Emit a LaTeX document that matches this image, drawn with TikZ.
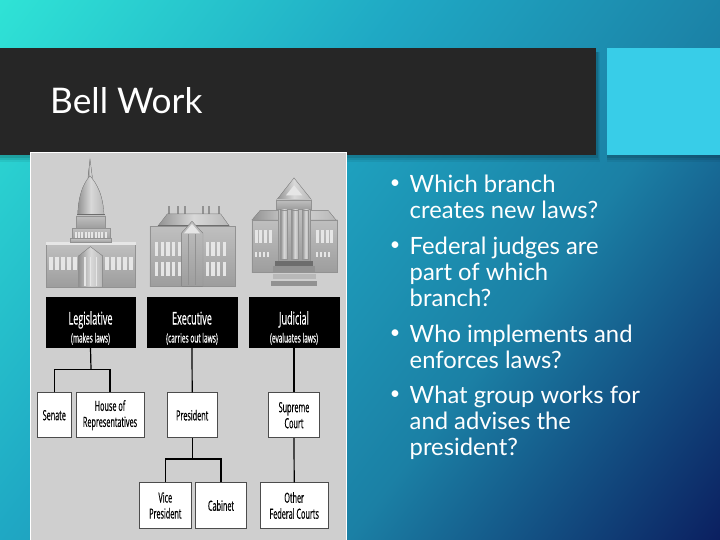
\documentclass[tikz,border=0pt]{standalone}
\usepackage{fontspec}
\setmainfont{Open Sans}
\newfontfamily\narrowfont[FakeStretch=0.52,FakeBold=0.35]{Open Sans}
\newfontfamily\slidefont{Lato}
\definecolor{bgA}{HTML}{2FE3D6}
\definecolor{bgB}{HTML}{1FA8C4}
\definecolor{bgD}{HTML}{1B80A5}
\definecolor{bgC}{HTML}{0B1F60}
\definecolor{bar}{HTML}{262626}
\definecolor{aqua}{HTML}{38CDE8}
\definecolor{panel}{HTML}{CFCFCF}
\definecolor{bldg}{HTML}{B8B8B8}
\definecolor{bldgD}{HTML}{929292}
\definecolor{bldgL}{HTML}{E6E6E6}
\pgfdeclarehorizontalshading{slidebg}{100bp}{color(0bp)=(bgA); color(25bp)=(bgA); color(43bp)=(bgB); color(58.5bp)=(bgD); color(75bp)=(bgC); color(100bp)=(bgC)}
\newcommand{\subline}[1]{{\fontsize{12.6}{14}\selectfont #1}}
\newcommand{\hdrstrut}{\rule{0pt}{24pt}}
\tikzset{
 hdr/.style={fill=black,draw=black,minimum width=89.5pt,minimum height=50pt,inner sep=0pt,text=white,align=center,font=\narrowfont\fontsize{17.5}{20}\selectfont},
 wbox/.style={fill=white,draw=black!70,line width=.7pt,inner sep=0pt,align=center,font=\narrowfont\fontsize{14}{16}\selectfont},
 stem/.style={draw=black,line width=1.2pt},
 bus/.style={draw=black,line width=1.4pt},
 wall/.style={top color=bldg!90,bottom color=bldgD!90,draw=bldgD,line width=.4pt},
 metal/.style={left color=bldgD,right color=bldg,middle color=bldgL!70!bldg,draw=bldgD,line width=.4pt},
 win/.style={fill=bldgL,draw=none},
 dark/.style={fill=bldgD!75!black,draw=none},
 bul/.style={anchor=north west,align=left,text=white,inner sep=0pt,font=\slidefont\fontsize{23.8}{26}\selectfont},
 dot/.style={anchor=center,text=white,inner sep=0pt,font=\slidefont\fontsize{18}{20}\selectfont},
}
\begin{document}
\begin{tikzpicture}[x=1pt,y=-1pt]
\useasboundingbox (0,0) rectangle (720,540);
\begin{scope}
 \clip (0,0) rectangle (720,540);
 \begin{scope}[transform canvas={rotate=-37.3}]
  \shade[shading=slidebg] (0,-800) rectangle (900,800);
 \end{scope}
\end{scope}
% shadows
\foreach \d/\o in {7/.06,5/.08,3/.10}{
 \fill[black,opacity=\o] (0,52) rectangle (596+\d/2,155+\d);
 \fill[black,opacity=\o] (607,52) rectangle (720,155+\d);
}
\fill[bar] (0,48) rectangle (596,155);
\fill[aqua] (607,48) rectangle (720,155);
\node[anchor=west,text=white,inner sep=0pt,font=\slidefont\fontsize{35.3}{40}\selectfont] (title) at (50,101) {Bell Work};
% panel
\fill[white] (30,152) rectangle (347,540);
\fill[panel] (31,153) rectangle (346,540);
% buildings, in 3x crop units
\begin{scope}[x=.33333pt,y=-.33333pt,shift={(90,450)}]
 % capitol
 \fill[metal] (180,28) -- (187,82) -- (174,82) -- cycle;
 \fill[metal] (143,198) .. controls (145,135) and (160,100) .. (180,78) .. controls (200,100) and (220,135) .. (222,198) -- cycle;
 \fill[dark] (141,191) rectangle (224,198);
 \fill[wall] (140,198) rectangle (227,235);
 \fill[wall] (127,235) rectangle (240,272);
 \foreach \i in {0,...,9}{\fill[win] (134+\i*10,247) rectangle (140+\i*10,266);}
 \fill[wall] (49,282) rectangle (317,411);
 \fill[bldgL] (49,276) rectangle (317,284);
 \fill[wall] (122,266) rectangle (245,278);
 \foreach \i in {0,1,2,3,4}{\fill[win] (57+\i*18,320) rectangle (68+\i*18,361);\fill[win] (226+\i*18,320) rectangle (237+\i*18,361);}
 \fill[metal] (146,411) -- (146,318) -- (181,290) -- (218,318) -- (218,411) -- cycle;
 \foreach \i in {0,1,2}{\fill[bldgL] (163+\i*17,322) rectangle (167+\i*17,408);}
 % executive
 \foreach \i in {416,444,464,518,536,566}{\fill[bldgD] (\i-3,168) rectangle (\i+3,215);}
 \fill[metal] (384,228) -- (412,192) -- (572,192) -- (598,228) -- cycle;
 \fill[dark] (384,224) rectangle (598,230);
 \fill[wall] (360,230) rectangle (617,410);
 \foreach \r in {276,337}{\foreach \i in {0,1,2,3,4,5,6,7,8,9,10,11,12}{\fill[win] (375+\i*16.9,\r) rectangle (385+\i*16.9,\r+42);}}
 \fill[wall] (454,410) -- (454,250) -- (486,214) -- (519,250) -- (519,410) -- cycle;
 \fill[bldgL] (462,250) -- (486,222) -- (510,250) -- cycle;
 \foreach \i in {476,497}{\fill[bldgD] (\i-1,252) rectangle (\i+1,406);}
 % judicial
 \fill[wall] (666,210) rectangle (923,368);
 \fill[metal] (666,210) -- (690,182) -- (895,182) -- (918,210) -- cycle;
 \foreach \i in {0,1,2,3}{\fill[win] (674+\i*14.5,241) rectangle (683+\i*14.5,278);\fill[win] (858+\i*14.5,241) rectangle (867+\i*14.5,278);
  \fill[win] (674+\i*12,305) rectangle (681+\i*12,322);\fill[win] (858+\i*12,305) rectangle (865+\i*12,322);}
 \fill[metal] (740,150) -- (792,84) -- (845,150) -- cycle;
 \fill[bldgL] (768,136) -- (792,106) -- (817,136) -- cycle;
 \fill[wall] (740,150) rectangle (845,178);
 \fill[wall] (745,178) rectangle (840,334);
 \foreach \i in {752,785,817}{\fill[metal] (\i,180) rectangle (\i+19,328);}
 \fill[dark] (734,334) rectangle (850,347);
 \fill[bldgD] (730,347) rectangle (854,366);
 \fill[bldg] (728,372) rectangle (858,388);
 \fill[bldgD] (724,392) rectangle (860,409);
\end{scope}
% headers
\node[hdr] (leg) at (90.5,322.5) {\hdrstrut Legislative\\[-2pt]\subline{(makes laws)}};
\node[hdr] (exe) at (192,322.5) {\hdrstrut Executive\\[-2pt]\subline{(carries out laws)}};
\node[hdr] (jud) at (294,322.5) {\hdrstrut Judicial\\[-2pt]\subline{(evaluates laws)}};
% boxes
\node[wbox,minimum width=34pt,minimum height=45pt] (sen) at (54.3,415.2) {Senate};
\node[wbox,minimum width=68pt,minimum height=45pt] (hou) at (110,415.2) {House of\\Representatives};
\node[wbox,minimum width=50.3pt,minimum height=45pt] (pre) at (192.2,415.2) {President};
\node[wbox,minimum width=50.6pt,minimum height=45pt] (sup) at (294,415.2) {Supreme\\Court};
\node[wbox,minimum width=52pt,minimum height=45.6pt] (vic) at (165.3,505.5) {Vice\\President};
\node[wbox,minimum width=50.6pt,minimum height=45.6pt] (cab) at (221,505.5) {Cabinet};
\node[wbox,minimum width=68.3pt,minimum height=45.6pt] (oth) at (294.2,505.5) {Other\\Federal Courts};
% connectors
\coordinate (lb) at (91,369.3);
\coordinate (eb) at (192.2,459);
\draw[stem] (leg.south) -- (lb);
\draw[bus] (sen.north) |- (lb);
\draw[bus] (hou.north) |- (lb);
\draw[stem] (exe.south) -- (pre.north);
\draw[stem] (pre.south) -- (eb);
\draw[bus] (vic.north) |- (eb);
\draw[bus] (cab.north) |- (eb);
\draw[stem] (jud.south) -- (sup.north);
\draw[stem] (sup.south) -- (oth.north);
% bullets
\node[dot] (d1) at (395,184) {•};
\node[bul] (t1) at (409.5,175) {Which branch\\creates new laws?};
\node[dot] (d2) at (395,246) {•};
\node[bul] (t2) at (409.5,237) {Federal judges are\\part of which\\branch?};
\node[dot] (d3) at (395,334) {•};
\node[bul] (t3) at (409.5,325) {Who implements and\\enforces laws?};
\node[dot] (d4) at (395,395) {•};
\node[bul] (t4) at (409.5,386) {What group works for\\and advises the\\president?};
\end{tikzpicture}
\end{document}
